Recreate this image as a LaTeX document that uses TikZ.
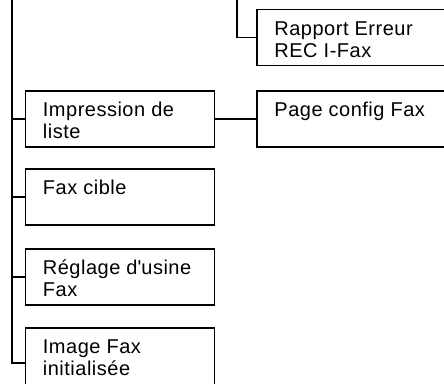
\documentclass[tikz,border=0pt]{standalone}
\usepackage{fontspec}
\setmainfont{Liberation Sans}[LetterSpace=2.5]
\newcommand\mybxtext[3]{\parbox[c][#2][t]{#1}{\fontsize{20}{22}\selectfont\parindent=0pt\leftskip=17.5pt\noindent\rule{0pt}{26pt}#3}}
\begin{document}
\begin{tikzpicture}[x=1pt,y=-1pt,
  box/.style={draw, line width=1.9pt, inner sep=0pt, anchor=north west},
  wire/.style={draw, line width=1.9pt}]
\useasboundingbox (0,0) rectangle (444,383);
\clip (0,0) rectangle (444,383);
\node[box] (b1) at (24.5,90) {\mybxtext{189pt}{56pt}{Impression de\\liste}};
\node[box] (b2) at (24.5,168) {\mybxtext{189pt}{56pt}{Fax cible}};
\node[box] (b3) at (24.5,248) {\mybxtext{189pt}{56pt}{Réglage d\textquotesingle usine\\Fax}};
\node[box] (b4) at (24.5,327) {\mybxtext{189pt}{70pt}{Image Fax\\initialisée}};
\node[box] (r1) at (256,8.5) {\mybxtext{192pt}{56pt}{Rapport Erreur\\REC I-Fax}};
\node[box] (r2) at (256,90) {\mybxtext{192pt}{56pt}{Page config Fax}};
\coordinate (topL) at (12,-5);
\coordinate (topR) at (237,-5);
\draw[wire] (topL) |- (b4.west);
\draw[wire] (topL |- b1.west) -- (b1.west);
\draw[wire] (topL |- b2.west) -- (b2.west);
\draw[wire] (topL |- b3.west) -- (b3.west);
\draw[wire] (topR) |- (r1.west);
\draw[wire] (b1.east) -- (r2.west);
\end{tikzpicture}
\end{document}
